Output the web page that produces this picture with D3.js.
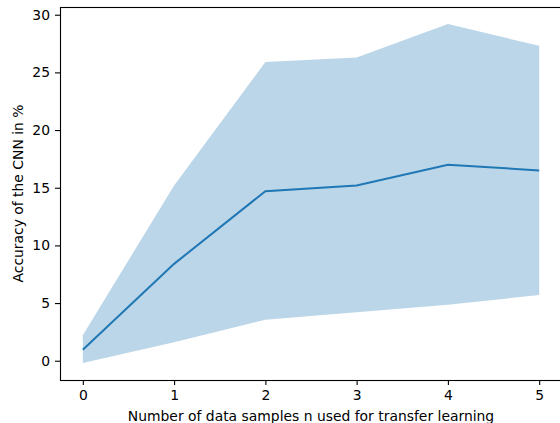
<!DOCTYPE html>
<html>
<head>
<meta charset="utf-8">
<script src="https://cdn.jsdelivr.net/npm/d3@7"></script>
<style>
  body { margin: 0; background: #fff; }
  svg text { font-family: "DejaVu Sans", sans-serif; }
</style>
</head>
<body>
<svg id="chart" width="560" height="423"></svg>
<script>
// values
var samples = [0, 1, 2, 3, 4, 5];
var meanAcc = [0.95, 8.4, 14.7, 15.2, 17.0, 16.5];
var upperAcc = [2.2, 15.2, 25.9, 26.3, 29.2, 27.3];
var lowerAcc = [-0.2, 1.6, 3.55, 4.2, 4.85, 5.7];
var yTicks = [0, 5, 10, 15, 20, 25, 30];

var data = samples.map(function(n, i) {
  return {n: n, mean: meanAcc[i], lo: lowerAcc[i], hi: upperAcc[i]};
});

var svg = d3.select("#chart"),
    margin = {top: 7, right: -2, bottom: 43, left: 60},
    width = +svg.attr("width") - margin.left - margin.right,
    height = +svg.attr("height") - margin.top - margin.bottom,
    g = svg.append("g").attr("transform", "translate(" + margin.left + "," + margin.top + ")");

// matplotlib-style 5% padding around the data
var x = d3.scaleLinear().domain([-0.25, 5.25]).range([0, width]);
var yMin = d3.min(lowerAcc), yMax = d3.max(upperAcc), pad = (yMax - yMin) * 0.05;
var y = d3.scaleLinear().domain([yMin - pad, yMax + pad]).range([height, 0]);

var band = d3.area()
    .x(function(d) { return x(d.n); })
    .y0(function(d) { return y(d.lo); })
    .y1(function(d) { return y(d.hi); });

var line = d3.line()
    .x(function(d) { return x(d.n); })
    .y(function(d) { return y(d.mean); });

g.append("path")
    .datum(data)
    .attr("fill", "#1f77b4")
    .attr("fill-opacity", 0.3)
    .attr("d", band);

g.append("path")
    .datum(data)
    .attr("fill", "none")
    .attr("stroke", "#1f77b4")
    .attr("stroke-width", 2)
    .attr("d", line);

var xAxis = g.append("g")
    .attr("transform", "translate(0," + height + ")")
    .call(d3.axisBottom(x).tickValues(samples).tickFormat(d3.format("d")).tickSize(5).tickPadding(5));

var yAxis = g.append("g")
    .call(d3.axisLeft(y).tickValues(yTicks).tickSize(5).tickPadding(5));

[xAxis, yAxis].forEach(function(a) {
  a.select(".domain").remove();
  a.selectAll(".tick line").attr("stroke", "#000").attr("stroke-width", 1.1);
  a.selectAll(".tick text").attr("fill", "#000").style("font-size", "13.9px");
});

// spines
g.append("rect")
    .attr("x", 0.5).attr("y", 0.5)
    .attr("width", width).attr("height", height)
    .attr("fill", "none")
    .attr("stroke", "#000")
    .attr("stroke-width", 1.1);

svg.append("text")
    .attr("x", margin.left + width / 2)
    .attr("y", 421)
    .attr("text-anchor", "middle")
    .style("font-size", "13.9px")
    .text("Number of data samples n used for transfer learning");

svg.append("text")
    .attr("transform", "translate(22.5," + (margin.top + height / 2) + ") rotate(-90)")
    .attr("text-anchor", "middle")
    .style("font-size", "13.9px")
    .text("Accuracy of the CNN in %");
</script>
</body>
</html>
